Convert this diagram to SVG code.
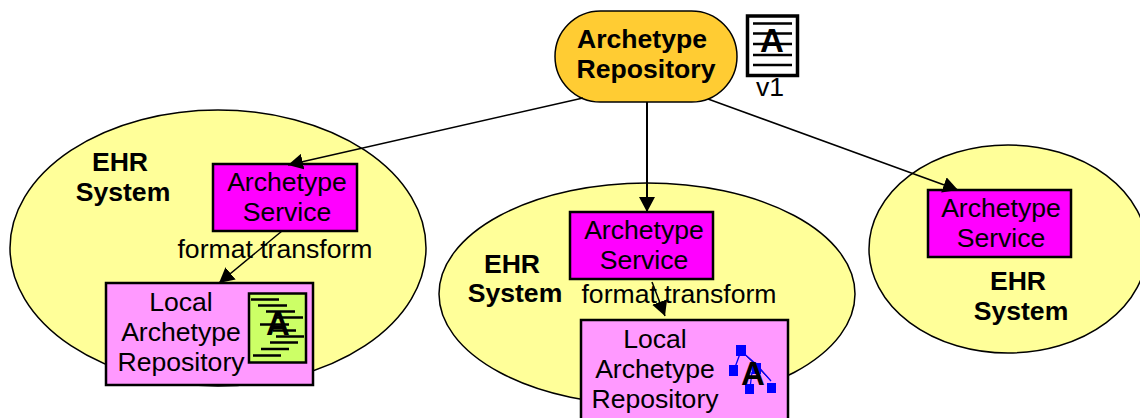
<svg xmlns="http://www.w3.org/2000/svg" width="1140" height="418" viewBox="0 0 1140 418">
<defs><marker id="ah" markerUnits="userSpaceOnUse" markerWidth="16" markerHeight="16" refX="15" refY="8" orient="auto"><path d="M0 0L15 8L0 16Z" fill="#000"/></marker></defs>
<style>
text{font-family:"Liberation Sans",Arial,sans-serif;font-size:26.600px;fill:#000;text-anchor:middle}
.b{font-weight:bold}
.e{fill:#ffff99;stroke:#000;stroke-width:1.5}
.s{fill:#ff00ff;stroke:#000;stroke-width:2.5}
.l{fill:#ff99ff;stroke:#000;stroke-width:2.5}
.c{fill:none;stroke:#000;stroke-width:1.5;marker-end:url(#ah)}
.k{stroke:#000;stroke-width:2.7}
.n{fill:#0000ff}
.t{stroke:#0000ff;stroke-width:1.3}
</style>
<g id="ehr1"><ellipse class="e" cx="218" cy="248" rx="208" ry="138"/><text class="b" x="120" y="171">EHR</text><text class="b" x="123" y="201">System</text></g>
<g id="ehr2"><ellipse class="e" cx="647" cy="294" rx="208" ry="111"/><text class="b" x="512" y="273">EHR</text><text class="b" x="515" y="302">System</text></g>
<g id="ehr3"><ellipse class="e" cx="1008" cy="249" rx="139" ry="104"/><text class="b" x="1018" y="290">EHR</text><text class="b" x="1021" y="320">System</text></g>
<g id="repo"><rect x="555" y="11" width="182" height="91" rx="45.500" fill="#ffcc33" stroke="#000" stroke-width="1.5"/><text class="b" x="642" y="48">Archetype</text><text class="b" x="646" y="78">Repository</text></g>
<g id="doc-v1"><rect x="747.500" y="16" width="50" height="59.500" fill="#fff" stroke="#000" stroke-width="3.500"/><g class="k"><path d="M753 23.500H792M753 33.500H792M753 44H792M753 55H792M753 65H792"/></g><text class="b" x="772" y="52" style="font-size:33px">A</text><text x="770" y="96">v1</text></g>
<g id="svc1"><rect class="s" x="213" y="164" width="144" height="67"/><text x="287" y="191">Archetype</text><text x="287" y="221">Service</text></g>
<g id="svc2"><rect class="s" x="570" y="212" width="143" height="67"/><text x="644" y="239">Archetype</text><text x="644" y="269">Service</text></g>
<g id="svc3"><rect class="s" x="928" y="190" width="143" height="67"/><text x="1001" y="217">Archetype</text><text x="1001" y="247">Service</text></g>
<g id="local1"><rect class="l" x="106" y="283" width="207" height="102"/><text x="181" y="311">Local</text><text x="181" y="341">Archetype</text><text x="181" y="371">Repository</text><rect x="249" y="293.500" width="57" height="69" fill="#ccff66" stroke="#000" stroke-width="2.500"/><g class="k"><path d="M251 299.500H279M258 305.500H287M266 311.500H295M275 317.500H303M260 324.500H289M273 330.500H296M276 336.500H304M270 342.500H298M261 349H289M253 355.500H281"/></g><text class="b" x="278" y="335" style="font-size:33px">A</text></g>
<g id="local2"><rect class="l" x="581" y="320" width="207" height="102"/><text x="655" y="348">Local</text><text x="655" y="378">Archetype</text><text x="655" y="408">Repository</text><g class="t"><path d="M741 351L734 370M741 351L757 365L771 381M752 372L750 388"/></g><g class="n"><rect x="736" y="345" width="10" height="11"/><rect x="729" y="365" width="9" height="11"/><rect x="752" y="363" width="9" height="11"/><rect x="745" y="384" width="9" height="10"/><rect x="767" y="383" width="9" height="10"/></g><text class="b" x="753" y="385" style="font-size:33px">A</text></g>
<g id="labels"><text x="275" y="258">format transform</text><text x="679" y="303">format transform</text></g>
<g id="connectors"><path class="c" d="M583 98L288 165"/><path class="c" style="stroke-width:2" d="M647 102V212"/><path class="c" d="M708 99L958 190"/><path class="c" d="M282 231L219 283"/><path class="c" d="M652 282L665 316"/></g>
</svg>
